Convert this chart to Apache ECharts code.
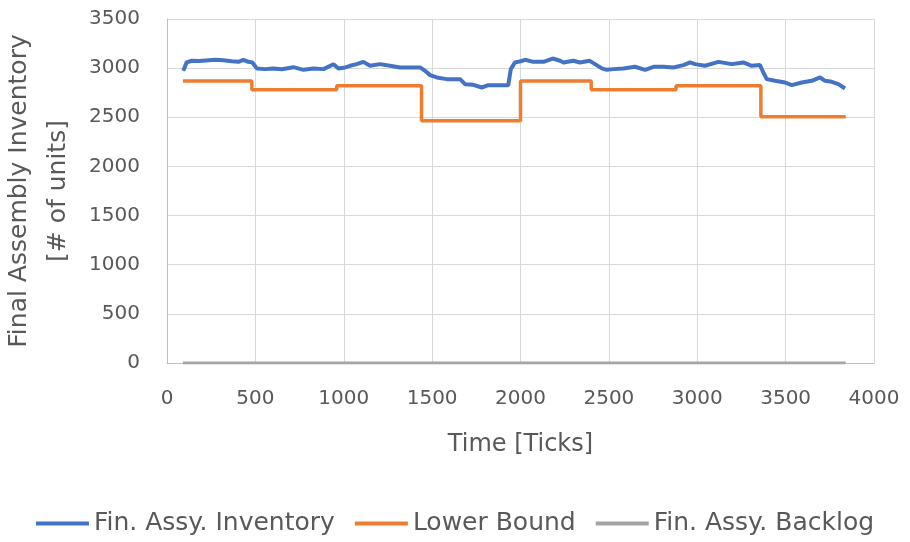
<!DOCTYPE html>
<html>
<head>
<meta charset="utf-8">
<script src="https://cdn.jsdelivr.net/npm/echarts@6/dist/echarts.min.js"></script>
<style>
html,body{margin:0;padding:0;background:#fff;}
#chart{width:910px;height:542px;}
</style>
</head>
<body>
<div id="chart"></div>
<script>
// ---- data ----
const inventoryTicks = [92,111,140,180,220,272,320,366,404,432,460,483,508,555,600,650,715,772,829,885,942,970,1000,1036,1073,1111,1149,1205,1262,1318,1375,1432,1460,1488,1526,1583,1658,1686,1733,1781,1818,1884,1931,1945,1969,2000,2026,2073,2130,2182,2224,2243,2299,2337,2390,2413,2460,2488,2526,2582,2648,2705,2752,2809,2865,2922,2959,2988,3044,3120,3195,3261,3308,3355,3374,3393,3440,3497,3535,3591,3648,3695,3723,3761,3799,3836];
const inventoryValues = [2973,3058,3075,3072,3078,3085,3080,3071,3064,3085,3064,3058,2997,2990,2997,2988,3010,2983,2997,2990,3040,2997,3003,3024,3041,3064,3024,3041,3024,3007,3007,3007,2973,2929,2905,2888,2888,2837,2830,2803,2827,2827,2827,2990,3058,3070,3085,3064,3064,3098,3075,3058,3075,3058,3075,3051,2997,2983,2990,2997,3014,2983,3014,3014,3007,3031,3058,3041,3024,3064,3041,3058,3024,3031,2956,2888,2871,2854,2827,2854,2871,2905,2871,2861,2837,2793];
const lowerBoundTicks = [90,480,960,1440,2000,2400,2880,3360,3840];
const lowerBoundValues = [2870,2780,2820,2465,2870,2780,2820,2505,2505];
const backlogTicks = [90,3840];
const backlogValues = [0,0];
const xTickLabels = ['0','500','1000','1500','2000','2500','3000','3500','4000'];
const yTickLabels = ['0','500','1000','1500','2000','2500','3000','3500'];
const seriesNames = ['Fin. Assy. Inventory','Lower Bound','Fin. Assy. Backlog'];

const pairs = (xs, ys) => xs.map((x, i) => [x, ys[i]]);

const FONT = 'DejaVu Sans';
const TXT = '#595959';
const chart = echarts.init(document.getElementById('chart'), null, {renderer: 'canvas'});
chart.setOption({
  animation: false,
  backgroundColor: '#fff',
  textStyle: {fontFamily: FONT},
  grid: {left: 167, right: 36, top: 19, bottom: 179, containLabel: false, outerBoundsMode: 'none'},
  xAxis: {
    type: 'value', min: 0, max: 4000, interval: 500,
    name: 'Time [Ticks]', nameLocation: 'middle', nameGap: 70,
    nameTextStyle: {fontFamily: FONT, fontSize: 24, color: TXT},
    axisLine: {show: true, lineStyle: {color: '#BFBFBF', width: 1}},
    axisTick: {show: false},
    axisLabel: {fontFamily: FONT, fontSize: 20, color: TXT, margin: 26,
      formatter: v => xTickLabels[Math.round(v / 500)]},
    splitLine: {show: true, lineStyle: {color: '#D9D9D9', width: 1}}
  },
  yAxis: {
    type: 'value', min: 0, max: 3500, interval: 500,
    name: 'Final Assembly Inventory\n[# of units]', nameLocation: 'middle', nameRotate: 90, nameGap: 84,
    nameTextStyle: {fontFamily: FONT, fontSize: 25, color: TXT, lineHeight: 39, align: 'center'},
    axisLine: {show: true, lineStyle: {color: '#BFBFBF', width: 1}},
    axisTick: {show: false},
    axisLabel: {fontFamily: FONT, fontSize: 20, color: TXT, margin: 27,
      formatter: v => yTickLabels[Math.round(v / 500)]},
    splitLine: {show: true, lineStyle: {color: '#D9D9D9', width: 1}}
  },
  legend: {
    top: 506, left: 'center',
    itemWidth: 53, itemHeight: 4, itemGap: 20,
    icon: 'rect',
    textStyle: {fontFamily: FONT, fontSize: 25, color: TXT},
    data: seriesNames
  },
  series: [
    {name: seriesNames[0], type: 'line', data: pairs(inventoryTicks, inventoryValues),
     showSymbol: false, lineStyle: {color: '#4472C4', width: 4}, itemStyle: {color: '#4472C4'}, z: 4},
    {name: seriesNames[1], type: 'line', step: 'end', data: pairs(lowerBoundTicks, lowerBoundValues),
     showSymbol: false, lineStyle: {color: '#ED7D31', width: 3.5}, itemStyle: {color: '#ED7D31'}, z: 3},
    {name: seriesNames[2], type: 'line', data: pairs(backlogTicks, backlogValues),
     showSymbol: false, lineStyle: {color: '#A5A5A5', width: 3}, itemStyle: {color: '#A5A5A5'}, z: 2}
  ]
});
</script>
</body>
</html>
